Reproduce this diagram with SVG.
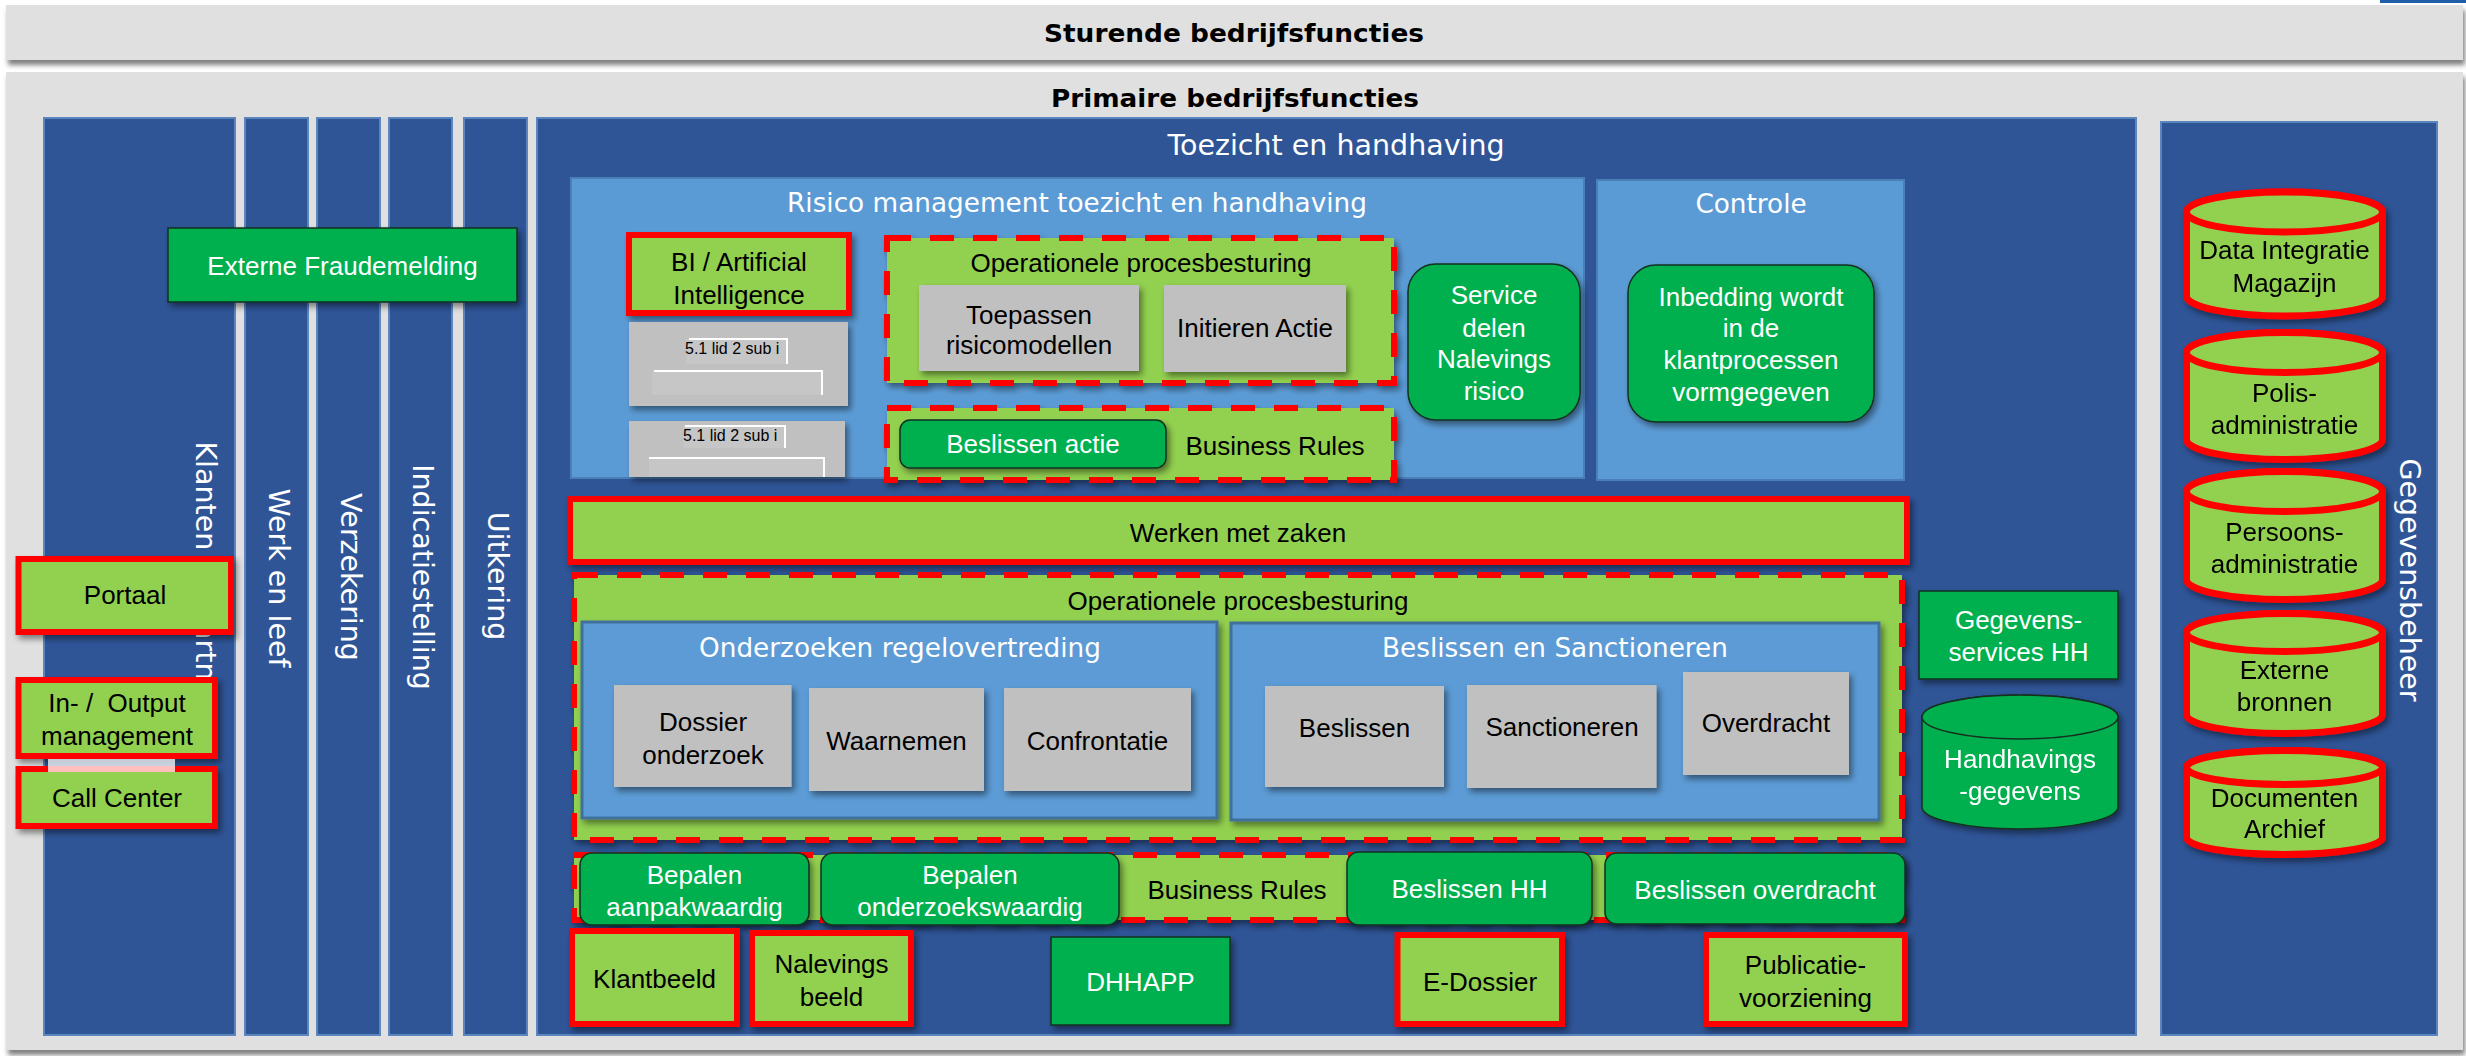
<svg xmlns="http://www.w3.org/2000/svg" width="2466" height="1056" viewBox="0 0 2466 1056">
<defs>
<filter id="sh" x="-10%" y="-10%" width="130%" height="140%">
<feGaussianBlur in="SourceAlpha" stdDeviation="3"/>
<feOffset dx="3" dy="4"/>
<feComponentTransfer><feFuncA type="linear" slope="0.45"/></feComponentTransfer>
<feMerge><feMergeNode/><feMergeNode in="SourceGraphic"/></feMerge>
</filter>
<filter id="shp" x="-2%" y="-10%" width="104%" height="130%">
<feGaussianBlur in="SourceAlpha" stdDeviation="2.5"/>
<feOffset dx="2" dy="5"/>
<feComponentTransfer><feFuncA type="linear" slope="0.5"/></feComponentTransfer>
<feMerge><feMergeNode/><feMergeNode in="SourceGraphic"/></feMerge>
</filter>
</defs>
<style>
.panel{fill:#e0e0e0}
.lane{fill:#2f5597;stroke:#5a86bd;stroke-width:2}
.lb{fill:#5b9bd5;stroke:#4a7fb8;stroke-width:2}
.lb2{fill:#5b9bd5;stroke:#41719c;stroke-width:3}
.gr{fill:#00b050;stroke:#15301f;stroke-width:1.5}
.gy{fill:#c0c0c0}
.gy2{fill:#c6c6c6}
.rd{fill:#92d050;stroke:#ff0000;stroke-width:6}
.ds{fill:#92d050;stroke:#ff0000;stroke-width:6;stroke-dasharray:24 19}
.cy{fill:#92d050;stroke:#ff0000;stroke-width:7}
.cyg{fill:#00b050;stroke:#15301f;stroke-width:1.5}
.t{font-family:"Liberation Sans",Arial,sans-serif;font-size:26px;text-anchor:middle;fill:#000}
.w{fill:#fff}
.tt{font-family:"DejaVu Sans",Verdana,sans-serif;font-size:26.3px;text-anchor:middle;fill:#fff}
.vl{font-family:"DejaVu Sans",Verdana,sans-serif;font-size:28.5px;text-anchor:middle;fill:#fff}
.hd{font-family:"DejaVu Sans",Tahoma,sans-serif;font-weight:bold;font-size:25px;text-anchor:middle;fill:#000}
.sm{font-family:"Liberation Sans",Arial,sans-serif;font-size:16px;fill:#000}
.wl{fill:none;stroke:#fff;stroke-width:2}
</style>

<rect x="0" y="0" width="2466" height="1056" fill="#ffffff"/>
<rect x="2380" y="0" width="86" height="3" fill="#1f5ea8"/>

<g id="sturende">
<rect class="panel" x="6" y="5" width="2457" height="55" filter="url(#shp)"/>
<text class="hd" x="1234" y="42" textLength="380" lengthAdjust="spacingAndGlyphs">Sturende bedrijfsfuncties</text>
</g>

<g id="primaire">
<rect class="panel" x="6" y="72" width="2457" height="978" filter="url(#shp)"/>
<text class="hd" x="1235" y="107" textLength="368" lengthAdjust="spacingAndGlyphs">Primaire bedrijfsfuncties</text>
</g>

<g id="lane-klanten">
<rect class="lane" x="44" y="118" width="191" height="917"/>
<text class="vl" transform="translate(196,583) rotate(90)">Klanten en partners</text>
</g>
<g id="lane-werk">
<rect class="lane" x="245" y="118" width="63" height="917"/>
<text class="vl" transform="translate(268.5,578) rotate(90)">Werk en leef</text>
</g>
<g id="lane-verzekering">
<rect class="lane" x="317" y="118" width="63" height="917"/>
<text class="vl" transform="translate(340.5,577) rotate(90)">Verzekering</text>
</g>
<g id="lane-indicatiestelling">
<rect class="lane" x="389" y="118" width="63" height="917"/>
<text class="vl" transform="translate(412.5,577) rotate(90)">Indicatiestelling</text>
</g>
<g id="lane-uitkering">
<rect class="lane" x="464" y="118" width="63" height="917"/>
<text class="vl" transform="translate(487.5,576) rotate(90)">Uitkering</text>
</g>
<g id="lane-toezicht">
<rect class="lane" x="537" y="118" width="1599" height="917"/>
<text class="tt" x="1336" y="155" style="font-size:28.5px">Toezicht en handhaving</text>
</g>
<g id="lane-gegevensbeheer">
<rect class="lane" x="2161" y="122" width="276" height="913"/>
<text class="vl" transform="translate(2400,580) rotate(90)">Gegevensbeheer</text>
</g>

<g id="externe-fraudemelding">
<rect class="gr" x="168" y="228" width="349" height="74" filter="url(#sh)"/>
<text class="t w" x="342.5" y="275">Externe Fraudemelding</text>
</g>

<g id="portaal">
<rect class="rd" x="18.5" y="559" width="212.5" height="73" filter="url(#sh)"/>
<text class="t" x="125" y="604">Portaal</text>
</g>
<g id="io-management">
<rect class="rd" x="18.5" y="680" width="196.5" height="76" filter="url(#sh)"/>
<text class="t" x="117" y="712" xml:space="preserve">In- /  Output</text>
<text class="t" x="117" y="745">management</text>
</g>
<g id="call-center">
<rect class="rd" x="18.5" y="769" width="196.5" height="57" filter="url(#sh)"/>
<text class="t" x="117" y="807">Call Center</text>
</g>
<rect x="48" y="759" width="127" height="13" fill="#ffffff" opacity="0.75"/>

<g id="risico-management">
<rect class="lb" x="571" y="178" width="1013" height="300"/>
<text class="tt" x="1077" y="212">Risico management toezicht en handhaving</text>
</g>
<g id="controle">
<rect class="lb" x="1597" y="180" width="307" height="300"/>
<text class="tt" x="1751" y="213">Controle</text>
</g>

<g id="bi-ai">
<rect class="rd" x="629" y="235" width="220" height="78" filter="url(#sh)"/>
<text class="t" x="739" y="271">BI / Artificial</text>
<text class="t" x="739" y="304">Intelligence</text>
</g>
<g id="wet-1">
<rect class="gy" x="629" y="322" width="219" height="84" filter="url(#sh)"/>
<rect class="gy2" x="686" y="339" width="101" height="25"/>
<polyline class="wl" points="689,339 787,339 787,364"/>
<rect class="gy2" x="652" y="371" width="170" height="24"/>
<polyline class="wl" points="654,371 822,371 822,395"/>
<text class="sm" x="685" y="354">5.1 lid 2 sub i</text>
</g>
<g id="wet-2">
<rect class="gy" x="629" y="421" width="216" height="56" filter="url(#sh)"/>
<rect class="gy2" x="683" y="426" width="102" height="22"/>
<polyline class="wl" points="685,426 785,426 785,448"/>
<rect class="gy2" x="649" y="458" width="175" height="19"/>
<polyline class="wl" points="649,458 824,458 824,477"/>
<text class="sm" x="683" y="441">5.1 lid 2 sub i</text>
</g>

<g id="op-procesbesturing-risico">
<rect class="ds" x="887" y="238" width="507" height="145" filter="url(#sh)"/>
<text class="t" x="1141" y="272">Operationele procesbesturing</text>
</g>
<g id="toepassen-risicomodellen">
<rect class="gy" x="919" y="285" width="220" height="86" filter="url(#sh)"/>
<text class="t" x="1029" y="324">Toepassen</text>
<text class="t" x="1029" y="354">risicomodellen</text>
</g>
<g id="initieren-actie">
<rect class="gy" x="1164" y="285" width="182" height="87" filter="url(#sh)"/>
<text class="t" x="1255" y="337">Initieren Actie</text>
</g>

<g id="business-rules-risico">
<rect class="ds" x="887" y="408" width="507" height="72" filter="url(#sh)"/>
<text class="t" x="1275" y="455">Business Rules</text>
</g>
<g id="beslissen-actie">
<rect class="gr" x="900" y="420" width="266" height="48" rx="10" filter="url(#sh)"/>
<text class="t w" x="1033" y="453">Beslissen actie</text>
</g>

<g id="service-delen">
<rect class="gr" x="1408" y="264" width="172" height="156" rx="28" filter="url(#sh)"/>
<text class="t w" x="1494" y="304">Service</text>
<text class="t w" x="1494" y="337">delen</text>
<text class="t w" x="1494" y="368">Nalevings</text>
<text class="t w" x="1494" y="400">risico</text>
</g>
<g id="inbedding">
<rect class="gr" x="1628" y="265" width="246" height="157" rx="28" filter="url(#sh)"/>
<text class="t w" x="1751" y="306">Inbedding wordt</text>
<text class="t w" x="1751" y="337">in de</text>
<text class="t w" x="1751" y="369">klantprocessen</text>
<text class="t w" x="1751" y="401">vormgegeven</text>
</g>

<g id="werken-met-zaken">
<rect class="rd" x="570" y="499" width="1337" height="63" filter="url(#sh)"/>
<text class="t" x="1238" y="542">Werken met zaken</text>
</g>

<g id="op-procesbesturing">
<rect class="ds" x="574" y="575" width="1328" height="265" filter="url(#sh)"/>
<text class="t" x="1238" y="610">Operationele procesbesturing</text>
</g>
<g id="onderzoeken-regelovertreding">
<rect class="lb2" x="582" y="622" width="635" height="196" filter="url(#sh)"/>
<text class="tt" x="900" y="657">Onderzoeken regelovertreding</text>
</g>
<g id="beslissen-sanctioneren">
<rect class="lb2" x="1231" y="623" width="648" height="197" filter="url(#sh)"/>
<text class="tt" x="1555" y="657">Beslissen en Sanctioneren</text>
</g>
<g id="dossier-onderzoek">
<rect class="gy" x="614" y="685" width="177.5" height="102" filter="url(#sh)"/>
<text class="t" x="703" y="731">Dossier</text>
<text class="t" x="703" y="764">onderzoek</text>
</g>
<g id="waarnemen">
<rect class="gy" x="809" y="688" width="175" height="103" filter="url(#sh)"/>
<text class="t" x="896.5" y="750">Waarnemen</text>
</g>
<g id="confrontatie">
<rect class="gy" x="1004" y="688" width="187" height="103" filter="url(#sh)"/>
<text class="t" x="1097.5" y="750">Confrontatie</text>
</g>
<g id="beslissen">
<rect class="gy" x="1265" y="686" width="179" height="101" filter="url(#sh)"/>
<text class="t" x="1354.5" y="737">Beslissen</text>
</g>
<g id="sanctioneren">
<rect class="gy" x="1467" y="685" width="189.5" height="103" filter="url(#sh)"/>
<text class="t" x="1562" y="736">Sanctioneren</text>
</g>
<g id="overdracht">
<rect class="gy" x="1683" y="672" width="166" height="103" filter="url(#sh)"/>
<text class="t" x="1766" y="732">Overdracht</text>
</g>

<g id="business-rules-hh">
<rect class="ds" x="574" y="855" width="1328" height="65" filter="url(#sh)"/>
<text class="t" x="1237" y="899">Business Rules</text>
</g>
<g id="bepalen-aanpakwaardig">
<rect class="gr" x="580" y="853" width="229" height="72" rx="12" filter="url(#sh)"/>
<text class="t w" x="694.5" y="884">Bepalen</text>
<text class="t w" x="694.5" y="916">aanpakwaardig</text>
</g>
<g id="bepalen-onderzoekswaardig">
<rect class="gr" x="821" y="853" width="298" height="72" rx="12" filter="url(#sh)"/>
<text class="t w" x="970" y="884">Bepalen</text>
<text class="t w" x="970" y="916">onderzoekswaardig</text>
</g>
<g id="beslissen-hh">
<rect class="gr" x="1347" y="852" width="245" height="73" rx="12" filter="url(#sh)"/>
<text class="t w" x="1469.5" y="898">Beslissen HH</text>
</g>
<g id="beslissen-overdracht">
<rect class="gr" x="1605" y="853" width="300" height="71" rx="12" filter="url(#sh)"/>
<text class="t w" x="1755" y="899">Beslissen overdracht</text>
</g>

<g id="klantbeeld">
<rect class="rd" x="572" y="931" width="165" height="93" filter="url(#sh)"/>
<text class="t" x="654.5" y="988">Klantbeeld</text>
</g>
<g id="nalevings-beeld">
<rect class="rd" x="752" y="933" width="159" height="91" filter="url(#sh)"/>
<text class="t" x="831.5" y="973">Nalevings</text>
<text class="t" x="831.5" y="1006">beeld</text>
</g>
<g id="dhhapp">
<rect class="gr" x="1051" y="937" width="179" height="88" filter="url(#sh)"/>
<text class="t w" x="1140.5" y="991">DHHAPP</text>
</g>
<g id="e-dossier">
<rect class="rd" x="1397.5" y="935" width="164.5" height="89" filter="url(#sh)"/>
<text class="t" x="1480" y="991">E-Dossier</text>
</g>
<g id="publicatievoorziening">
<rect class="rd" x="1706" y="935" width="199" height="89" filter="url(#sh)"/>
<text class="t" x="1805.5" y="974">Publicatie-</text>
<text class="t" x="1805.5" y="1007">voorziening</text>
</g>

<g id="gegevensservices-hh">
<rect class="gr" x="1919" y="591" width="199" height="88" filter="url(#sh)"/>
<text class="t w" x="2018.5" y="629">Gegevens-</text>
<text class="t w" x="2018.5" y="661">services HH</text>
</g>
<g id="handhavingsgegevens" filter="url(#sh)">
<path class="cyg" d="M1922,717 L1922,807 A98,22 0 0 0 2118,807 L2118,717 A98,22 0 0 0 1922,717 Z"/>
<ellipse class="cyg" cx="2020" cy="717" rx="98" ry="22"/>
<text class="t w" x="2020" y="768">Handhavings</text>
<text class="t w" x="2020" y="800">-gegevens</text>
</g>

<g id="data-integratie-magazijn" filter="url(#sh)">
<path class="cy" d="M2186.5,212 L2186.5,296 A98,20 0 0 0 2382.5,296 L2382.5,212 A98,20 0 0 0 2186.5,212 Z"/>
<ellipse class="cy" cx="2284.5" cy="212" rx="98" ry="20"/>
<text class="t" x="2284.5" y="259">Data Integratie</text>
<text class="t" x="2284.5" y="292">Magazijn</text>
</g>
<g id="polisadministratie" filter="url(#sh)">
<path class="cy" d="M2186.5,352.5 L2186.5,439.5 A98,20 0 0 0 2382.5,439.5 L2382.5,352.5 A98,20 0 0 0 2186.5,352.5 Z"/>
<ellipse class="cy" cx="2284.5" cy="352.5" rx="98" ry="20"/>
<text class="t" x="2284.5" y="402">Polis-</text>
<text class="t" x="2284.5" y="434">administratie</text>
</g>
<g id="persoonsadministratie" filter="url(#sh)">
<path class="cy" d="M2186.5,491.5 L2186.5,579.5 A98,20 0 0 0 2382.5,579.5 L2382.5,491.5 A98,20 0 0 0 2186.5,491.5 Z"/>
<ellipse class="cy" cx="2284.5" cy="491.5" rx="98" ry="20"/>
<text class="t" x="2284.5" y="541">Persoons-</text>
<text class="t" x="2284.5" y="573">administratie</text>
</g>
<g id="externe-bronnen" filter="url(#sh)">
<path class="cy" d="M2186.5,632.5 L2186.5,714.5 A98,19 0 0 0 2382.5,714.5 L2382.5,632.5 A98,19 0 0 0 2186.5,632.5 Z"/>
<ellipse class="cy" cx="2284.5" cy="632.5" rx="98" ry="19"/>
<text class="t" x="2284.5" y="679">Externe</text>
<text class="t" x="2284.5" y="711">bronnen</text>
</g>
<g id="documenten-archief" filter="url(#sh)">
<path class="cy" d="M2186.5,767.5 L2186.5,837.5 A98,17 0 0 0 2382.5,837.5 L2382.5,767.5 A98,17 0 0 0 2186.5,767.5 Z"/>
<ellipse class="cy" cx="2284.5" cy="767.5" rx="98" ry="17"/>
<text class="t" x="2284.5" y="807">Documenten</text>
<text class="t" x="2284.5" y="838">Archief</text>
</g>

<g id="connectors"/>
</svg>
